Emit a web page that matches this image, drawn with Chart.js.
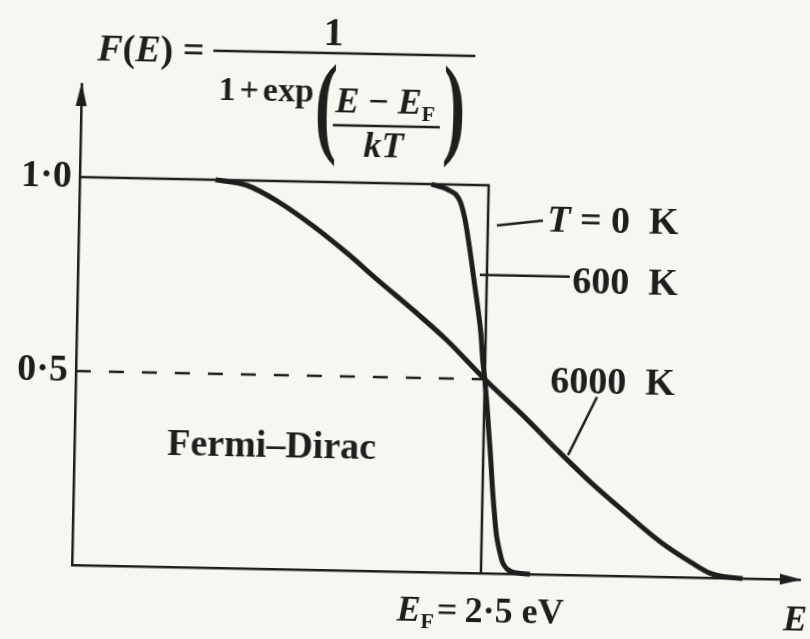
<!DOCTYPE html>
<html>
<head>
<meta charset="utf-8">
<script src="https://cdn.jsdelivr.net/npm/chart.js@4"></script>
<style>
  html, body { margin: 0; padding: 0; background: #f7f6f1; overflow: hidden; }
  #wrap { width: 810px; height: 639px; transform-origin: 72px 565px; transform: rotate(1.15deg); }
  canvas { display: block; }
</style>
</head>
<body>
<div id="wrap"><canvas id="c" width="810" height="639"></canvas></div>
<script>
// Fermi–Dirac occupation probability F(E) against energy E (eV)
const fermiEnergy = 2.5;
const halfLevel = 0.5;
const yTickValues = [0.5, 1.0];

// T = 0 K: a sharp step at the Fermi energy
const energy0K = [0, 2.5, 2.5];
const occupancy0K = [1, 1, 0];

// T = 600 K
const energy600K = [2.15, 2.22, 2.26, 2.30, 2.33, 2.36, 2.39, 2.42, 2.45, 2.47, 2.485, 2.50, 2.515, 2.53, 2.545, 2.56, 2.575, 2.59, 2.61, 2.63, 2.66, 2.70, 2.80];
const occupancy600K = [1.00, 0.992, 0.985, 0.975, 0.955, 0.91, 0.84, 0.76, 0.68, 0.62, 0.55, 0.50, 0.44, 0.37, 0.30, 0.22, 0.155, 0.10, 0.06, 0.03, 0.012, 0.004, 0.0];

// T = 6000 K
const energy6000K = [0.83, 1.02, 1.22, 1.43, 1.64, 1.84, 2.05, 2.26, 2.50, 2.76, 2.96, 3.17, 3.38, 3.59, 3.79, 3.90, 4.00, 4.10];
const occupancy6000K = [1.00, 0.988, 0.946, 0.887, 0.819, 0.748, 0.676, 0.600, 0.50, 0.400, 0.318, 0.236, 0.162, 0.091, 0.037, 0.012, 0.003, 0.0];

const INK = '#1e1e1e';
const SERIF = '"Liberation Serif", "Times New Roman", serif';
const B = s => `bold ${s}px ${SERIF}`;
const BI = s => `italic bold ${s}px ${SERIF}`;

const toPoints = (xs, ys) => xs.map((x, i) => ({ x, y: ys[i] }));

function drawRuns(ctx, x, y, runs) {
  for (const r of runs) {
    ctx.font = r.font;
    ctx.fillText(r.text, x, y + (r.dy || 0));
    x += ctx.measureText(r.text).width + (r.gap || 0);
  }
  return x;
}
function runsWidth(ctx, runs) {
  let w = 0;
  for (const r of runs) { ctx.font = r.font; w += ctx.measureText(r.text).width + (r.gap || 0); }
  return w;
}
function line(ctx, x1, y1, x2, y2, w) {
  ctx.beginPath();
  ctx.lineWidth = w;
  ctx.moveTo(x1, y1);
  ctx.lineTo(x2, y2);
  ctx.stroke();
}
function bigParen(ctx, ch, cx, cy, size) {
  ctx.save();
  ctx.translate(cx, cy + 0.24 * size);
  ctx.scale(0.6, 1);
  ctx.font = B(size);
  ctx.textAlign = 'center';
  ctx.fillText(ch, 0, 0);
  ctx.restore();
}

const decorations = {
  id: 'decorations',
  afterDraw(chart) {
    const { ctx, chartArea: a, scales: { x, y } } = chart;
    const px = v => x.getPixelForValue(v);
    const py = v => y.getPixelForValue(v);
    ctx.save();
    ctx.fillStyle = INK;
    ctx.strokeStyle = INK;
    ctx.textBaseline = 'alphabetic';
    ctx.textAlign = 'left';

    // axis arrowheads
    ctx.beginPath();
    ctx.moveTo(a.left, a.top - 2);
    ctx.lineTo(a.left - 5.5, a.top + 22);
    ctx.lineTo(a.left + 5.5, a.top + 22);
    ctx.closePath();
    ctx.fill();
    ctx.beginPath();
    ctx.moveTo(a.right + 2, a.bottom);
    ctx.lineTo(a.right - 20, a.bottom - 5.5);
    ctx.lineTo(a.right - 20, a.bottom + 5.5);
    ctx.closePath();
    ctx.fill();

    // formula F(E) = 1 / (1 + exp((E - E_F)/kT))
    drawRuns(ctx, 87, 59.5, [
      { text: 'F', font: BI(38) }, { text: '(', font: B(38) }, { text: 'E', font: BI(38) },
      { text: ')', font: B(38) }, { text: ' =', font: B(38) }
    ]);
    line(ctx, 203, 48, 465, 48, 2.5);
    ctx.font = B(40);
    ctx.textAlign = 'center';
    ctx.fillText('1', 323, 40);
    ctx.textAlign = 'left';
    drawRuns(ctx, 209, 97, [
      { text: '1', font: B(34), gap: 4 }, { text: '+', font: B(34), gap: 4 }, { text: 'exp', font: B(34) }
    ]);
    bigParen(ctx, '(', 317, 110, 112);
    drawRuns(ctx, 326, 106.5, [
      { text: 'E', font: BI(36) }, { text: ' \u2212 ', font: B(36) }, { text: 'E', font: BI(36) },
      { text: 'F', font: B(22), dy: 7 }
    ]);
    line(ctx, 324, 120, 431, 120, 2.5);
    drawRuns(ctx, 355, 151, [{ text: 'kT', font: BI(36) }]);
    bigParen(ctx, ')', 445, 109, 112);

    // curve labels with leader lines
    line(ctx, px(2.555), py(0.897), px(2.836), py(0.912), 2.5);
    drawRuns(ctx, px(2.862), py(0.883), [
      { text: 'T', font: BI(38) }, { text: ' = 0  K', font: B(38) }
    ]);
    line(ctx, px(2.457), py(0.769), px(3.007), py(0.769), 2.5);
    drawRuns(ctx, px(3.023), py(0.727), [{ text: '600  K', font: B(38) }]);
    line(ctx, px(3.188), py(0.460), px(3.018), py(0.309), 2.5);
    drawRuns(ctx, px(2.900), py(0.470), [{ text: '6000  K', font: B(38) }]);

    drawRuns(ctx, px(0.567), py(0.288), [{ text: 'Fermi\u2013Dirac', font: B(38) }]);

    // energy axis labels
    const efRuns = [
      { text: 'E', font: BI(36) }, { text: 'F', font: B(22), dy: 7, gap: 3 },
      { text: '=\u20092\u00B75 eV', font: B(36) }
    ];
    const w = runsWidth(ctx, efRuns);
    drawRuns(ctx, px(fermiEnergy) - w / 2, a.bottom + 49, efRuns);
    drawRuns(ctx, a.right - 16, a.bottom + 51, [{ text: 'E', font: BI(36) }]);

    ctx.restore();
  }
};

new Chart(document.getElementById('c'), {
  type: 'line',
  data: {
    datasets: [
      {
        label: 'T = 0 K',
        data: toPoints(energy0K, occupancy0K),
        borderColor: INK, borderWidth: 2.5, tension: 0
      },
      {
        label: '600 K',
        data: toPoints(energy600K, occupancy600K),
        borderColor: INK, borderWidth: 5, cubicInterpolationMode: 'monotone'
      },
      {
        label: '6000 K',
        data: toPoints(energy6000K, occupancy6000K),
        borderColor: INK, borderWidth: 5, cubicInterpolationMode: 'monotone'
      },
      {
        label: 'F = 0.5',
        data: [{ x: 0, y: halfLevel }, { x: fermiEnergy, y: halfLevel }],
        borderColor: INK, borderWidth: 2.5, borderDash: [15, 18], tension: 0
      }
    ]
  },
  options: {
    responsive: false,
    animation: false,
    devicePixelRatio: 1,
    clip: false,
    elements: { point: { radius: 0 }, line: { borderCapStyle: 'butt', borderJoinStyle: 'miter' } },
    layout: { padding: { top: 84, right: 10, left: 0, bottom: 0 } },
    plugins: { legend: { display: false }, tooltip: { enabled: false } },
    scales: {
      x: {
        type: 'linear', min: 0, max: 4.45,
        grid: { display: false, drawTicks: false },
        border: { display: true, color: INK, width: 2.5 },
        ticks: { display: false },
        afterFit: s => { s.height = 74; }
      },
      y: {
        type: 'linear', min: 0, max: 1.24,
        grid: { display: false, drawTicks: false },
        border: { display: true, color: INK, width: 2.5 },
        afterBuildTicks: s => { s.ticks = yTickValues.map(v => ({ value: v })); },
        ticks: {
          color: INK, padding: 8,
          font: { family: SERIF, size: 38, weight: 'bold' },
          callback: v => Number(v).toFixed(1).replace('.', '\u00B7')
        },
        afterFit: s => { s.width = 72; }
      }
    }
  },
  plugins: [decorations]
});
</script>
</body>
</html>
